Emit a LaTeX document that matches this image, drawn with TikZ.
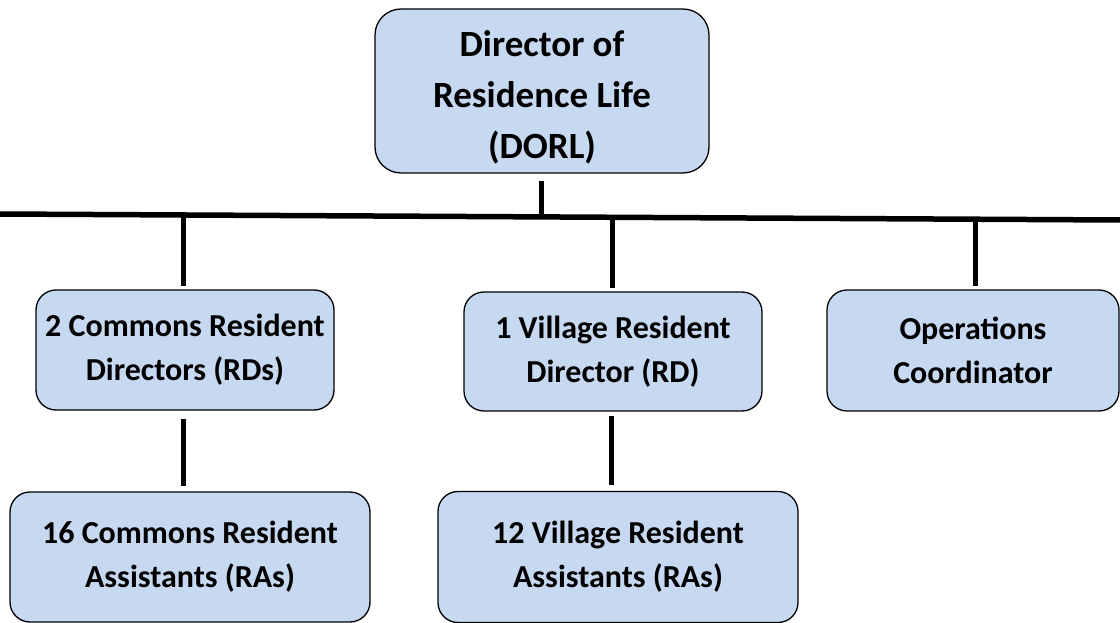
\documentclass[tikz,border=0pt]{standalone}
\usepackage{fontspec}
\setmainfont{Carlito}
\begin{document}
\begin{tikzpicture}[x=1pt,y=-1pt,
  box/.style={draw=black, line width=1.3pt, fill=boxblue, rounded corners=20pt,
    align=center, inner sep=0pt, font=\fontsize{32}{44}\selectfont\bfseries},
  conn/.style={line width=5pt, black}]
\definecolor{boxblue}{HTML}{C6D9F1}
\useasboundingbox (0,0) rectangle (1120,623);
\node[box, minimum width=334pt, minimum height=164pt, rounded corners=26pt,
  font=\fontsize{37}{51}\selectfont\bfseries] (dorl) at (542,91)
  {\rule{0pt}{38pt}Director of\\Residence Life\\(DORL)};
\node[box, minimum width=298pt, minimum height=120pt] (crd) at (185,350)
  {2 Commons Resident\\Directors (RDs)};
\node[box, minimum width=298pt, minimum height=119pt] (vrd) at (613,351.5)
  {1 Village Resident\\Director (RD)};
\node[box, minimum width=292pt, minimum height=121pt] (ops) at (973,350.5)
  {Operations\\Coordinator};
\node[box, minimum width=360pt, minimum height=130pt] (cra) at (190,557)
  {16 Commons Resident\\Assistants (RAs)};
\node[box, minimum width=360pt, minimum height=131pt] (vra) at (618,557)
  {12 Village Resident\\Assistants (RAs)};
\coordinate (busL) at (0,214);
\coordinate (busR) at (1120,220);
\coordinate (j0) at (541,216.9);
\coordinate (j1) at (183,215);
\coordinate (j2) at (612,217.3);
\coordinate (j3) at (975,219.2);
\draw[conn, line width=5.5pt] (busL) -- (busR);
\draw[conn, shorten <=7pt] (dorl.south -| j0) -- (j0);
\draw[conn, shorten >=3pt] (j1) -- (j1 |- crd.north);
\draw[conn, shorten >=3pt] (j2) -- (j2 |- vrd.north);
\draw[conn, shorten >=3pt] (j3) -- (j3 |- ops.north);
\draw[conn, shorten <=8pt, shorten >=5pt] (crd.south -| j1) -- (j1 |- cra.north);
\draw[conn, shorten <=4pt, shorten >=6pt] (vrd.south -| 611,0) -- (611,0 |- vra.north);
\end{tikzpicture}
\end{document}
